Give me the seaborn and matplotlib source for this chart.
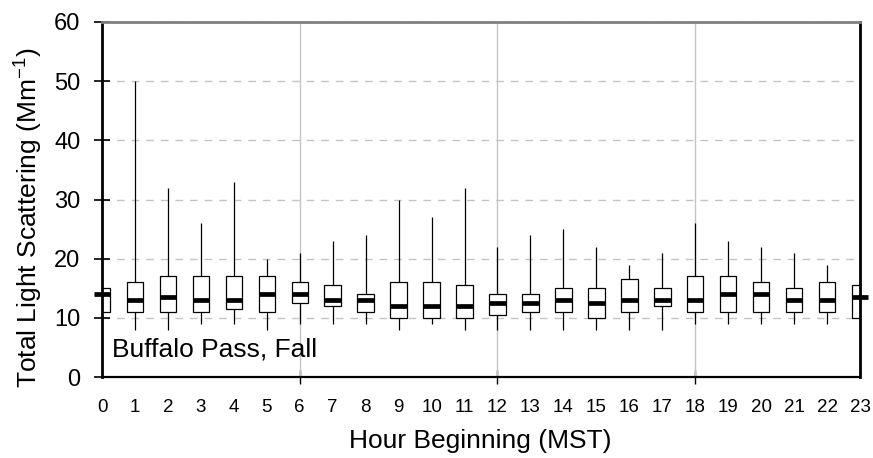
import numpy as np
import pandas as pd
import matplotlib
matplotlib.use("Agg")
import matplotlib.pyplot as plt
import seaborn as sns

# Hourly distribution of total light scattering (Mm^-1), Buffalo Pass, fall
hours = list(range(24))
low = [11, 8, 8, 9, 9, 8, 9, 9, 9, 8, 9, 8, 8, 8, 8, 8, 8, 8, 9, 9, 9, 9, 9, 10]
q1 = [11, 11, 11, 11, 11.5, 11, 12.5, 12, 11, 10, 10, 10, 10.5, 11, 11, 10,
      11, 12, 11, 11, 11, 11, 11, 10]
median = [14, 13, 13.5, 13, 13, 14, 14, 13, 13, 12, 12, 12, 12.5, 12.5, 13, 12.5,
          13, 13, 13, 14, 14, 13, 13, 13.5]
q3 = [15, 16, 17, 17, 17, 17, 16, 15.5, 14, 16, 16, 15.5, 14, 14, 15, 15,
      16.5, 15, 17, 17, 16, 15, 16, 15.5]
high = [15, 50, 32, 26, 33, 20, 21, 23, 24, 30, 27, 32, 22, 24, 25, 22,
        19, 21, 26, 23, 22, 21, 19, 15.5]
y_ticks = [0, 10, 20, 30, 40, 50, 60]
six_hour_marks = [6, 12, 18]

# five summary points per hour reproduce min / quartiles / median / max exactly
rows = []
for h, a, b, c, d, e in zip(hours, low, q1, median, q3, high):
    for v in (a, b, c, d, e):
        rows.append({"hour": h, "value": v})
df = pd.DataFrame(rows)

sns.set_style("white")
plt.rcParams["font.family"] = ["Liberation Sans", "DejaVu Sans"]
plt.rcParams["mathtext.default"] = "regular"
for key in ("text.color", "axes.labelcolor", "xtick.color", "ytick.color"):
    plt.rcParams[key] = "black"

W, H = 873, 458
fig = plt.figure(figsize=(W / 100, H / 100), dpi=100)
ax = fig.add_axes([102 / W, 81 / H, 758 / W, 355 / H])

sns.boxplot(
    data=df, x="hour", y="value", order=hours, ax=ax,
    whis=(0, 100), width=0.5, color="white", saturation=1,
    linecolor="black", linewidth=0.9, showcaps=False,
    medianprops=dict(color="black", linewidth=3.4, solid_capstyle="butt",
                     clip_on=False),
)

ax.set_xlim(0, 23)
ax.set_ylim(0, 60)
ax.set_yticks(y_ticks)
ax.set_xticks(range(24))
ax.set_xticklabels([str(h) for h in hours])
ax.xaxis.remove_overlapping_locs = False
ax.set_xticks(six_hour_marks, minor=True)
ax.set_xlabel("")
ax.set_ylabel("")

ax.set_axisbelow(True)
ax.yaxis.grid(True, linestyle=(0, (5.5, 5)), color="#c4c4c4", linewidth=1)
ax.xaxis.grid(False, which="major")
for xv in six_hour_marks:
    ax.axvline(xv, color="#c4c4c4", linewidth=1, zorder=0.6)

ax.tick_params(axis="y", left=True, direction="inout", length=12, width=1.2,
               color="black", labelcolor="black", labelsize=17, pad=9.5)
ax.tick_params(axis="x", which="major", bottom=True, length=0,
               labelcolor="black", labelsize=13.5, pad=16)
ax.tick_params(axis="x", which="minor", bottom=True, direction="inout",
               length=10, width=1, color="black")

for side, col, lw in (("left", "black", 2), ("bottom", "black", 1.6),
                      ("top", "#808080", 2), ("right", "black", 2)):
    ax.spines[side].set_visible(True)
    ax.spines[side].set_color(col)
    ax.spines[side].set_linewidth(lw)

ax.text(0.0128, 0.059, "Buffalo Pass, Fall", transform=ax.transAxes,
        fontsize=19, va="baseline", ha="left", color="black")

fig.text(480 / W, 1 - 448 / H, "Hour Beginning (MST)", fontsize=19,
         ha="center", va="baseline", color="black")
fig.text(29 / W, 1 - 218 / H, "Total Light Scattering (Mm$^{-1}$)",
         fontsize=19, rotation=90, ha="center", va="center", color="black")

fig.savefig("out.png", dpi=100)
